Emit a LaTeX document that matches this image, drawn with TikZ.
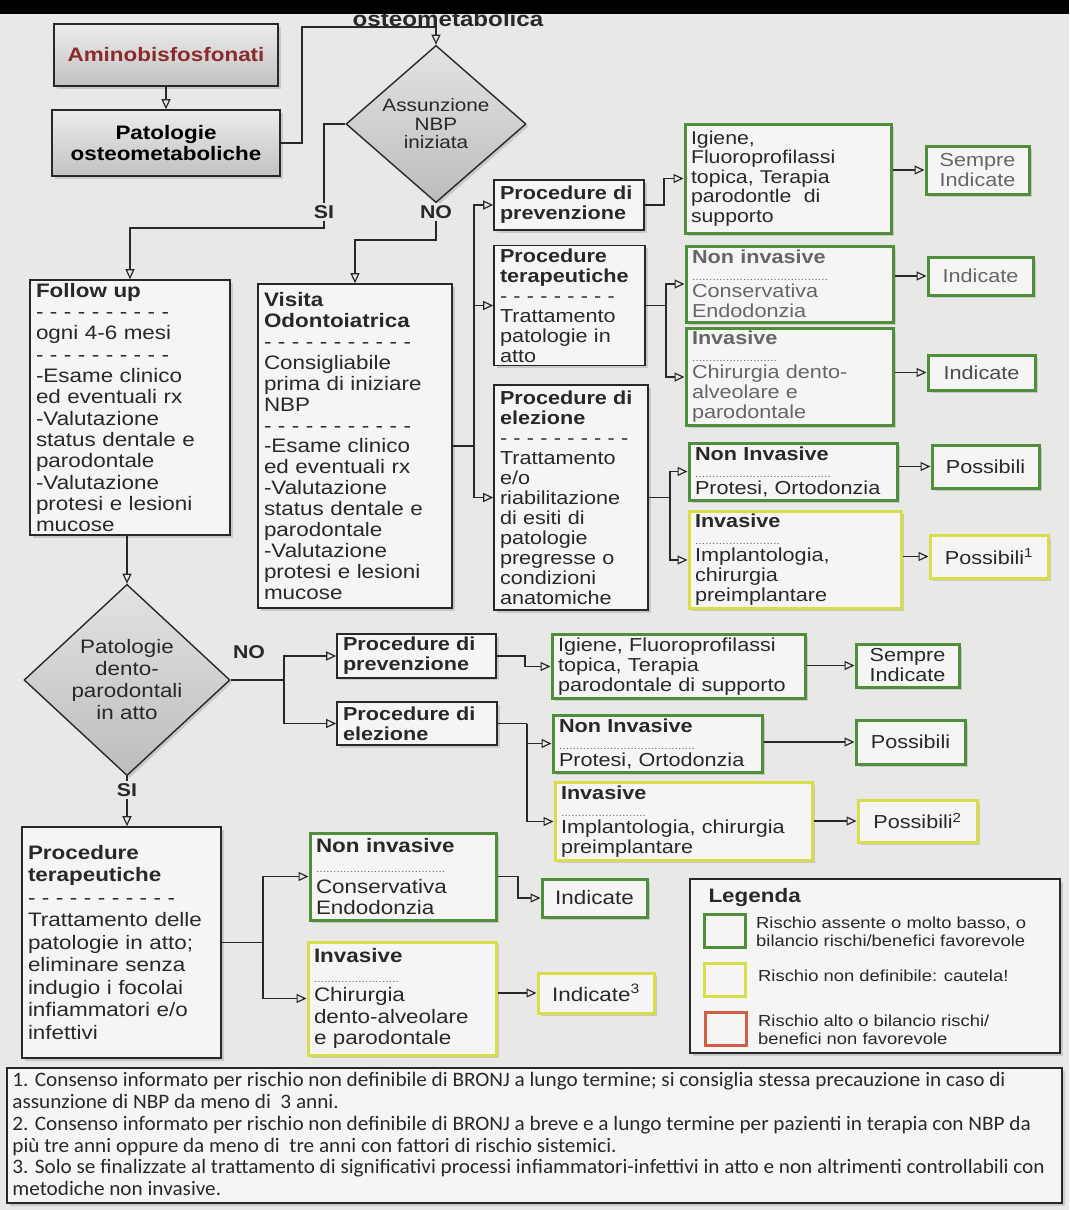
\documentclass[tikz,border=0pt]{standalone}
\usepackage{fontspec}
\setmainfont{Liberation Sans}[FakeStretch=1.15]
\newfontfamily\notefont{Carlito}[FakeStretch=1.035]
\usetikzlibrary{shapes.geometric,arrows.meta,shadows}

\definecolor{fondo}{RGB}{232,232,230}
\definecolor{carta}{RGB}{245,245,243}
\definecolor{verde}{RGB}{80,142,60}
\definecolor{giallo}{RGB}{216,222,74}
\definecolor{rosso}{RGB}{210,92,70}
\definecolor{bordeaux}{RGB}{140,42,42}
\definecolor{inchiostro}{RGB}{40,40,40}

\newcommand{\puntini}[1]{{\color{black!60}\fontsize{10}{10}\selectfont\makebox[#1][l]{\leaders\hbox to 3.4pt{\hss.\hss}\hfill}}}

\tikzset{
	ombra/.style={drop shadow={opacity=0.3,shadow xshift=2.5pt,shadow yshift=-2.5pt}},
	grigio/.style={draw=inchiostro,line width=1.6pt,top color=gray!15,bottom color=gray!48,
		font=\fontsize{19.5}{21}\selectfont\bfseries,align=center,ombra},
	scatola/.style={draw=inchiostro,line width=1.6pt,fill=carta,align=left,
		inner xsep=6pt,inner ysep=3pt,text=inchiostro,ombra},
	verdebox/.style={scatola,draw=verde,line width=3pt},
	giallobox/.style={scatola,draw=giallo,line width=3pt},
	esito/.style={align=center},
	rombo/.style={diamond,draw=inchiostro,line width=1.4pt,top color=gray!22,bottom color=gray!52,
		inner sep=0pt,align=center,text=inchiostro,ombra},
	linea/.style={draw=inchiostro,line width=1.2pt},
	freccia/.style={linea,-{Triangle[open,length=10pt,width=9pt]}},
	etichetta/.style={fill=fondo,inner sep=2pt,text=inchiostro,font=\fontsize{18.5}{20}\selectfont\bfseries},
	legtesto/.style={align=left,inner sep=2pt,text=inchiostro,font=\fontsize{16}{18.5}\selectfont},
}

\begin{document}
\begin{tikzpicture}[x=1pt,y=-1pt,font=\fontsize{18.8}{20}\selectfont]
	\fill[fondo] (0,0) rectangle (1069,1210);
	\useasboundingbox (0,0) rectangle (1069,1210);
	%TITOLO
	\node[anchor=base,text=inchiostro,font=\fontsize{21}{21}\selectfont\bfseries] (T) at (448,26) {osteometabolica};
	\fill[black] (0,0) rectangle (1069,14);
	%INIZIO
	\node[grigio,minimum width=224pt,minimum height=62pt,text=bordeaux] (A) at (166,55) {Aminobisfosfonati};
	\node[grigio,minimum width=228pt,minimum height=66pt] (P) at (166,143) {Patologie\\osteometaboliche};
	\node[rombo,minimum width=180pt,minimum height=138pt,font=\fontsize{18}{18.5}\selectfont] (D1) at (436,124) {Assunzione\\NBP\\iniziata};
	%SI / NO
	\node[scatola,text width=188pt,minimum height=255pt,font=\fontsize{19.5}{21.3}\selectfont] (FU) at (130,407.5)
		{\textbf{Follow up}\\- - - - - - - - - -\\ogni 4-6 mesi\\- - - - - - - - - -\\-Esame clinico\\ed eventuali rx\\-Valutazione\\status dentale e\\parodontale\\-Valutazione\\protesi e lesioni\\mucose};
	\node[scatola,text width=182pt,minimum height=324pt,font=\fontsize{19.5}{20.9}\selectfont] (VO) at (355,446)
		{\textbf{Visita}\\\textbf{Odontoiatrica}\\- - - - - - - - - - -\\Consigliabile\\prima di iniziare\\NBP\\- - - - - - - - - - -\\-Esame clinico\\ed eventuali rx\\-Valutazione\\status dentale e\\parodontale\\-Valutazione\\protesi e lesioni\\mucose};
	%COLONNA DESTRA
	\node[scatola,text width=138pt,minimum height=50pt] (PP1) at (569,205) {\textbf{Procedure di}\\\textbf{prevenzione}};
	\node[scatola,text width=139pt,minimum height=119pt] (PT1) at (569.5,305.5)
		{\textbf{Procedure}\\\textbf{terapeutiche}\\- - - - - - - - -\\Trattamento\\patologie in\\atto};
	\node[scatola,text width=142pt,minimum height=225pt] (PE1) at (571,497.5)
		{\textbf{Procedure di}\\\textbf{elezione}\\- - - - - - - - - -\\Trattamento\\e/o\\riabilitazione\\di esiti di\\patologie\\pregresse o\\condizioni\\anatomiche};
	\node[verdebox,text width=194pt,minimum height=109pt,font=\fontsize{18.5}{19.6}\selectfont] (G1) at (788,178.5)
		{Igiene,\\Fluoroprofilassi\\topica, Terapia\\parodontle\ \ di\\supporto};
	\node[verdebox,esito,minimum width=103pt,minimum height=48pt,text=black!60] (S1) at (977.5,170) {Sempre\\Indicate};
	\node[verdebox,text width=195pt,minimum height=76pt,text=black!60] (G2) at (789.5,284)
		{\textbf{Non invasive}\\[-3pt]\puntini{136pt}\\[-3pt]Conservativa\\Endodonzia};
	\node[verdebox,esito,minimum width=105pt,minimum height=38pt,text=black!60] (I1) at (980.5,276) {Indicate};
	\node[verdebox,text width=195pt,minimum height=96pt,text=black!60] (G3) at (789.5,377)
		{\textbf{Invasive}\\[-3pt]\puntini{88pt}\\[-3pt]Chirurgia dento-\\alveolare e\\parodontale};
	\node[verdebox,esito,minimum width=107pt,minimum height=35pt,text=black!70] (I2) at (981.5,372.5) {Indicate};
	\node[verdebox,text width=196pt,minimum height=57pt] (G4) at (793,471.5)
		{\textbf{Non Invasive}\\[-3pt]\puntini{136pt}\\[-3pt]Protesi, Ortodonzia};
	\node[verdebox,esito,minimum width=107pt,minimum height=43pt] (Po1) at (985.5,466.5) {Possibili};
	\node[giallobox,text width=200pt,minimum height=94pt] (Y1) at (795,560)
		{\textbf{Invasive}\\[-3pt]\puntini{88pt}\\[-3pt]Implantologia,\\chirurgia\\preimplantare};
	\node[giallobox,esito,minimum width=118pt,minimum height=43pt] (Po2) at (989,556.5) {Possibili\textsuperscript{1}};
	%SECONDA DOMANDA
	\node[rombo,minimum width=206pt,minimum height=166pt,font=\fontsize{19.5}{22}\selectfont] (D2) at (127,680) {Patologie\\dento-\\parodontali\\in atto};
	\node[scatola,text width=147pt,minimum height=42pt] (PP2) at (416.5,656) {\textbf{Procedure di}\\\textbf{prevenzione}};
	\node[scatola,text width=148pt,minimum height=43pt] (PE2) at (417,723.5) {\textbf{Procedure di}\\\textbf{elezione}};
	\node[verdebox,text width=241pt,minimum height=63pt] (G5) at (678.5,666.5)
		{Igiene, Fluoroprofilassi\\topica, Terapia\\parodontale di supporto};
	\node[verdebox,esito,minimum width=103pt,minimum height=43pt] (S2) at (907.5,665.5) {Sempre\\Indicate};
	\node[verdebox,text width=197pt,minimum height=57pt] (G6) at (657.5,743.5)
		{\textbf{Non Invasive}\\[-3pt]\puntini{136pt}\\[-3pt]Protesi, Ortodonzia};
	\node[verdebox,esito,minimum width=109pt,minimum height=44pt] (Po3) at (910.5,742) {Possibili};
	\node[giallobox,text width=245pt,minimum height=77pt] (Y2) at (683.5,821.5)
		{\textbf{Invasive}\\[-3pt]\puntini{88pt}\\[-3pt]Implantologia, chirurgia\\preimplantare};
	\node[giallobox,esito,minimum width=119pt,minimum height=42pt] (Po4) at (917.5,821) {Possibili\textsuperscript{2}};
	%TERAPIA
	\node[scatola,text width=187pt,minimum height=231pt,font=\fontsize{19.5}{22.5}\selectfont] (PT2) at (121.5,942.5)
		{\textbf{Procedure}\\\textbf{terapeutiche}\\- - - - - - - - - - -\\Trattamento delle\\patologie in atto;\\eliminare senza\\indugio i focolai\\infiammatori e/o\\infettivi};
	\node[verdebox,text width=174pt,minimum height=87pt,font=\fontsize{19.5}{21.5}\selectfont] (G7) at (403,876.5)
		{\textbf{Non invasive}\\[-1pt]\puntini{130pt}\\[-1pt]Conservativa\\Endodonzia};
	\node[verdebox,esito,minimum width=105pt,minimum height=38pt,font=\fontsize{19.5}{21.5}\selectfont] (I3) at (594.5,898) {Indicate};
	\node[giallobox,text width=176pt,minimum height=113pt,font=\fontsize{19.5}{21.5}\selectfont] (Y3) at (402,998.5)
		{\textbf{Invasive}\\[-2pt]\puntini{88pt}\\[-2pt]Chirurgia\\dento-alveolare\\e parodontale};
	\node[giallobox,esito,minimum width=116pt,minimum height=40pt,font=\fontsize{19.5}{21.5}\selectfont] (I4) at (596,993) {Indicate\textsuperscript{3}};
	%FRECCE
	\draw[freccia] (A) -- (P);
	\draw[freccia] (P.east) -- (302,143) -- (302,27) -| (D1.north);
	\draw[freccia] (D1.west) -| (324,228) -| (FU.north);
	\draw[freccia] (D1.south) -- (436,240) -| (VO.north);
	\draw[linea] (VO.east) -- (474,446);
	\draw[freccia] (474,446) |- (PP1.west);
	\draw[freccia] (474,446) |- (PT1.west);
	\draw[freccia] (474,446) |- (PE1.west);
	\draw[freccia] (PP1.east) -- (664,205) |- (G1.west);
	\draw[freccia] (G1.east |- S1.west) -- (S1.west);
	\draw[linea] (PT1.east) -- (666,305.5);
	\draw[freccia] (666,305.5) |- (G2.west);
	\draw[freccia] (666,305.5) |- (G3.west);
	\draw[freccia] (G2.east |- I1.west) -- (I1.west);
	\draw[freccia] (G3.east |- I2.west) -- (I2.west);
	\draw[linea] (PE1.east) -- (670,497.5);
	\draw[freccia] (670,497.5) |- (G4.west);
	\draw[freccia] (670,497.5) |- (Y1.west);
	\draw[freccia] (G4.east |- Po1.west) -- (Po1.west);
	\draw[freccia] (Y1.east |- Po2.west) -- (Po2.west);
	\draw[freccia] (FU.south -| D2.north) -- (D2.north);
	\draw[linea] (D2.east) -- (284,680);
	\draw[freccia] (284,680) |- (PP2.west);
	\draw[freccia] (284,680) |- (PE2.west);
	\draw[freccia] (PP2.east) -- (525,656) |- (G5.west);
	\draw[freccia] (G5.east |- S2.west) -- (S2.west);
	\draw[linea] (PE2.east) -- (527,723.5);
	\draw[freccia] (527,723.5) |- (G6.west);
	\draw[freccia] (527,723.5) |- (Y2.west);
	\draw[freccia] (G6.east |- Po3.west) -- (Po3.west);
	\draw[freccia] (Y2.east |- Po4.west) -- (Po4.west);
	\draw[freccia] (D2.south) -- (D2.south |- PT2.north);
	\draw[linea] (PT2.east) -- (263,942.5);
	\draw[freccia] (263,942.5) |- (G7.west);
	\draw[freccia] (263,942.5) |- (Y3.west);
	\draw[freccia] (G7.east) -- (518,876.5) |- (I3.west);
	\draw[freccia] (Y3.east |- I4.west) -- (I4.west);
	%SI NO
	\node[etichetta] (si1) at (324,212) {SI};
	\node[etichetta] (no1) at (436,212) {NO};
	\node[etichetta] (no2) at (249,652) {NO};
	\node[etichetta] (si2) at (127,790) {SI};
	%LEGENDA
	\node[scatola,minimum width=370pt,minimum height=174pt] (L) at (875,966) {};
	\node[anchor=base west,text=inchiostro,font=\fontsize{19.5}{20}\selectfont\bfseries] (Lt) at (705,902) {Legenda};
	\node[draw=verde,line width=2.6pt,fill=carta,minimum width=41pt,minimum height=33pt] (Lv) at (725,931) {};
	\node[draw=giallo,line width=2.6pt,fill=carta,minimum width=41pt,minimum height=33pt] (Lg) at (725,980) {};
	\node[draw=rosso,line width=2.6pt,fill=carta,minimum width=41pt,minimum height=33pt] (Lr) at (726,1029) {};
	\node[legtesto,anchor=west] (Tv) at (754,932) {Rischio assente o molto basso, o\\bilancio rischi/benefici favorevole};
	\node[legtesto,anchor=west] (Tg) at (756,976) {Rischio non definibile: cautela!};
	\node[legtesto,anchor=west] (Tr) at (756,1030) {Rischio alto o bilancio rischi/\\benefici non favorevole};
	%NOTE
	\node[scatola,minimum width=1055pt,minimum height=135pt] (F) at (534.5,1135.5) {};
	\node[anchor=north west,align=left,inner sep=0pt,text=inchiostro,font=\notefont\fontsize{20.5}{21.8}\selectfont,xshift=6pt,yshift=-5pt] (N) at (F.north west)
		{1. Consenso informato per rischio non definibile di BRONJ a lungo termine; si consiglia stessa precauzione in caso di\\
		assunzione di NBP da meno di\ \ 3 anni.\\
		2. Consenso informato per rischio non definibile di BRONJ a breve e a lungo termine per pazienti in terapia con NBP da\\
		più tre anni oppure da meno di\ \ tre anni con fattori di rischio sistemici.\\
		3. Solo se finalizzate al trattamento di significativi processi infiammatori-infettivi in atto e non altrimenti controllabili con\\
		metodiche non invasive.};
\end{tikzpicture}
\end{document}
